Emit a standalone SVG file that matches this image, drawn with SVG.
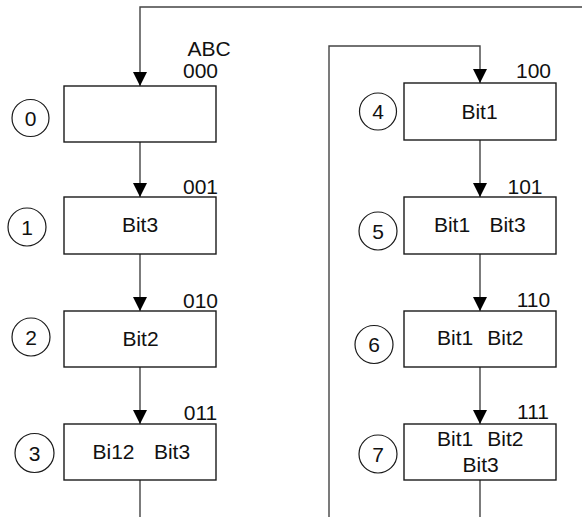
<svg xmlns="http://www.w3.org/2000/svg" width="582" height="517" viewBox="0 0 582 517">
<style>
  .box { fill: #ffffff; stroke: #1a1a1a; stroke-width: 1.4; }
  .circ { fill: #ffffff; stroke: #1a1a1a; stroke-width: 1.2; }
  .conn { fill: none; stroke: #444444; stroke-width: 1.4; }
  text { font-family: "Liberation Sans", Arial, sans-serif; font-size: 21px; fill: #111111; text-anchor: middle; }
</style>
<defs>
  <marker id="arr" viewBox="0 0 14 14" refX="14" refY="7" markerWidth="14" markerHeight="14" markerUnits="userSpaceOnUse" orient="auto">
    <path d="M0,0 L14,7 L0,14 z" fill="#000000"/>
  </marker>
</defs>
<rect width="582" height="517" fill="#ffffff"/>

<g id="connectors">
  <path class="conn" d="M582,7 H140 V86" marker-end="url(#arr)"/>
  <path class="conn" d="M140,142 V197" marker-end="url(#arr)"/>
  <path class="conn" d="M140,254 V311" marker-end="url(#arr)"/>
  <path class="conn" d="M140,367 V424" marker-end="url(#arr)"/>
  <path class="conn" d="M140,480 V517"/>
  <path class="conn" d="M329,517 V46 H480 V83" marker-end="url(#arr)"/>
  <path class="conn" d="M480,140 V197" marker-end="url(#arr)"/>
  <path class="conn" d="M480,254 V311" marker-end="url(#arr)"/>
  <path class="conn" d="M480,367 V424" marker-end="url(#arr)"/>
  <path class="conn" d="M480,480 V517"/>
</g>

<text x="209" y="56">ABC</text>

<g id="state0">
  <rect class="box" x="64" y="86" width="152" height="56"/>
  <circle class="circ" cx="30.5" cy="118" r="18.5"/>
  <text x="30.5" y="125.5">0</text>
  <text x="200.5" y="78">000</text>
</g>
<g id="state1">
  <rect class="box" x="64" y="197" width="152" height="57"/>
  <circle class="circ" cx="27" cy="227" r="19"/>
  <text x="27" y="234.5">1</text>
  <text x="200.5" y="194">001</text>
  <text x="140" y="231.5">Bit3</text>
</g>
<g id="state2">
  <rect class="box" x="64" y="311" width="152" height="56"/>
  <circle class="circ" cx="31" cy="337" r="19"/>
  <text x="31" y="344.5">2</text>
  <text x="200.5" y="307.5">010</text>
  <text x="140.5" y="345.5">Bit2</text>
</g>
<g id="state3">
  <rect class="box" x="64" y="424" width="152" height="56"/>
  <circle class="circ" cx="34.5" cy="453" r="19.5"/>
  <text x="34.5" y="460.5">3</text>
  <text x="200.5" y="420">011</text>
  <text y="458.5"><tspan x="113.5">Bi12</tspan><tspan x="172">Bit3</tspan></text>
</g>

<g id="state4">
  <rect class="box" x="404" y="83" width="152" height="57"/>
  <circle class="circ" cx="378" cy="111.5" r="18.5"/>
  <text x="378" y="119">4</text>
  <text x="533.5" y="78.3">100</text>
  <text x="479.5" y="119">Bit1</text>
</g>
<g id="state5">
  <rect class="box" x="404" y="197" width="152" height="57"/>
  <circle class="circ" cx="378" cy="231" r="19"/>
  <text x="378" y="238.5">5</text>
  <text x="525" y="194">101</text>
  <text y="232.3"><tspan x="452">Bit1</tspan><tspan x="507.5">Bit3</tspan></text>
</g>
<g id="state6">
  <rect class="box" x="404" y="311" width="152" height="56"/>
  <circle class="circ" cx="374" cy="344.5" r="19"/>
  <text x="374" y="352">6</text>
  <text x="533.5" y="306.7">110</text>
  <text y="345"><tspan x="455.2">Bit1</tspan><tspan x="505.3">Bit2</tspan></text>
</g>
<g id="state7">
  <rect class="box" x="404" y="424" width="152" height="56"/>
  <circle class="circ" cx="378" cy="454" r="19"/>
  <text x="378" y="461.5">7</text>
  <text x="533" y="419.3">111</text>
  <text y="446"><tspan x="455.2">Bit1</tspan><tspan x="505.3">Bit2</tspan></text>
  <text x="480.7" y="472">Bit3</text>
</g>
</svg>
